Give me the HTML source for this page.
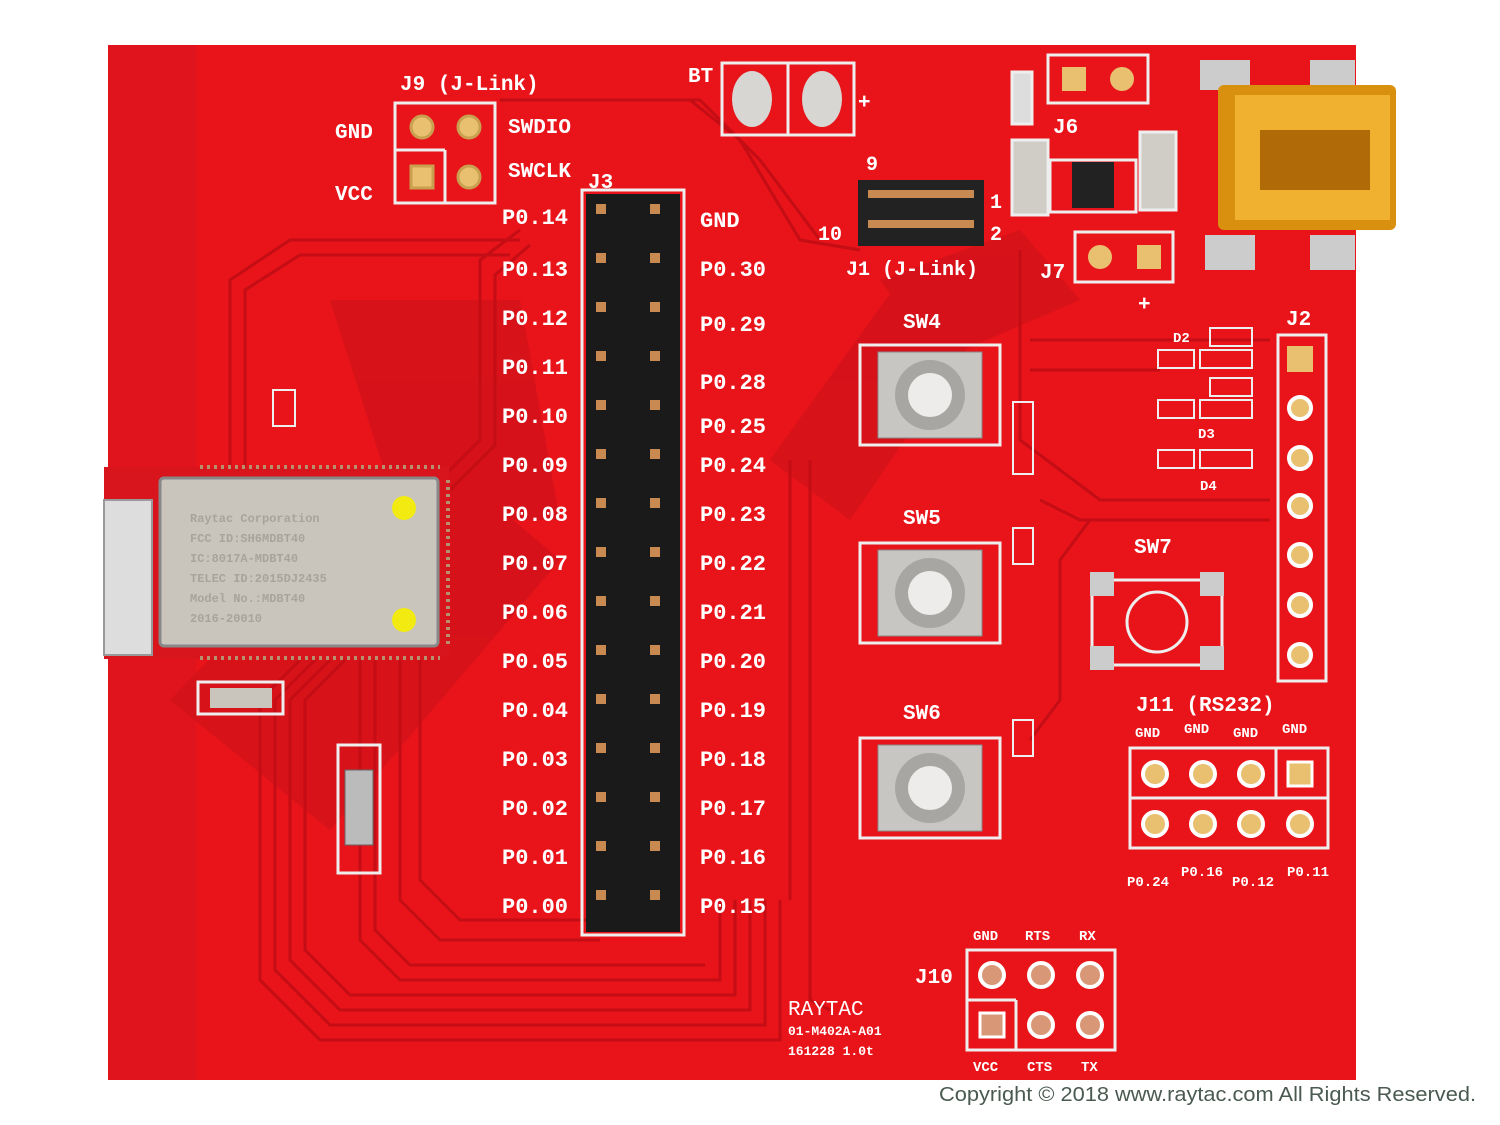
<!DOCTYPE html>
<html><head><meta charset="utf-8"><style>
html,body{margin:0;padding:0;background:#fff;}
svg{display:block;}
text{font-family:"Liberation Mono",monospace;font-weight:bold;fill:#fff;}
</style></head><body>
<svg width="1500" height="1125" viewBox="0 0 1500 1125" xmlns="http://www.w3.org/2000/svg">
<rect x="0" y="0" width="1500" height="1125" fill="#fff"/>
<rect x="108" y="45" width="1248" height="1035" fill="#e8141a"/>
<rect x="108" y="45" width="88" height="1035" fill="#e0141c"/>
<g fill="#c8101a" opacity="0.55">
<path d="M170 700 L420 440 L560 560 L330 830 Z"/>
<path d="M330 300 L520 300 L560 520 L400 520 Z"/>
<path d="M770 460 L900 280 L980 330 L850 520 Z"/>
<path d="M880 280 L1020 230 L1080 300 L940 360 Z"/>
</g>
<g fill="none" stroke="#c40d14" stroke-width="3">
<path d="M440 480 L480 440 L480 260 L520 230"/>
<path d="M450 490 L495 445 L495 275 L530 245"/>
<path d="M320 470 L230 470 L230 280 L290 240 L520 240"/>
<path d="M330 470 L245 470 L245 290 L300 255 L510 255"/>
<path d="M300 660 L260 700 L260 980 L320 1040 L780 1040 L780 900"/>
<path d="M315 660 L275 700 L275 970 L330 1025 L765 1025 L765 900"/>
<path d="M330 660 L290 700 L290 960 L340 1010 L750 1010 L750 900"/>
<path d="M345 660 L305 700 L305 950 L350 995 L735 995 L735 900"/>
<path d="M360 660 L360 940 L400 980 L720 980 L720 900"/>
<path d="M375 660 L375 930 L410 965 L705 965"/>
<path d="M400 660 L400 900 L440 940 L600 940"/>
<path d="M420 660 L420 880 L460 920 L590 920"/>
<path d="M690 100 L740 140 L800 240 L860 250"/>
<path d="M500 100 L700 100 L760 160 L820 240"/>
<path d="M1030 340 L1270 340"/><path d="M1030 370 L1160 370"/>
<path d="M1020 250 L1020 440 L1100 500 L1270 500"/>
<path d="M1040 500 L1080 520 L1270 520"/>
<path d="M1030 740 L1060 700 L1060 560 L1090 520"/>
<path d="M810 460 L810 1000 L830 1010"/>
<path d="M790 460 L790 900"/>
</g>
<rect x="104" y="467" width="345" height="192" fill="#d8141c"/>
<rect x="104" y="500" width="48" height="155" fill="#ddd" stroke="#999" stroke-width="2"/>
<rect x="160" y="478" width="278" height="168" rx="4" fill="#c9c5bd" stroke="#888" stroke-width="3"/>
<g font-size="12">
<text x="190" y="522" style="fill:#a8a49c">Raytac Corporation</text>
<text x="190" y="542" style="fill:#a8a49c">FCC ID:SH6MDBT40</text>
<text x="190" y="562" style="fill:#a8a49c">IC:8017A-MDBT40</text>
<text x="190" y="582" style="fill:#a8a49c">TELEC ID:2015DJ2435</text>
<text x="190" y="602" style="fill:#a8a49c">Model No.:MDBT40</text>
<text x="190" y="622" style="fill:#a8a49c">2016-20010</text>
</g>
<circle cx="404" cy="508" r="12" fill="#f2ea10"/>
<circle cx="404" cy="620" r="12" fill="#f2ea10"/>
<g stroke="#b89070" stroke-width="4" stroke-dasharray="3 4">
<line x1="200" y1="467" x2="440" y2="467"/><line x1="200" y1="658" x2="440" y2="658"/>
<line x1="448" y1="480" x2="448" y2="645"/>
</g>
<rect x="198" y="682" width="85" height="32" fill="none" stroke="#eee" stroke-width="3"/>
<rect x="210" y="688" width="62" height="20" fill="#c9c5bd"/>
<rect x="338" y="745" width="42" height="128" fill="none" stroke="#eee" stroke-width="3"/>
<rect x="345" y="770" width="28" height="75" fill="#bbb" stroke="#666"/>
<rect x="273" y="390" width="22" height="36" fill="none" stroke="#eee" stroke-width="2"/>
<rect x="395" y="103" width="100" height="100" fill="none" stroke="#eee" stroke-width="3"/>
<line x1="395" y1="150" x2="445" y2="150" stroke="#eee" stroke-width="3"/><line x1="445" y1="150" x2="445" y2="203" stroke="#eee" stroke-width="3"/>
<g fill="#e8c070" stroke="#c8a050" stroke-width="3">
<circle cx="422" cy="127" r="11"/><circle cx="469" cy="127" r="11"/><circle cx="469" cy="177" r="11"/>
<rect x="411" y="166" width="22" height="22"/></g>
<g font-size="21"><text x="400" y="90">J9 (J-Link)</text><text x="335" y="138">GND</text><text x="335" y="200">VCC</text>
<text x="508" y="133">SWDIO</text><text x="508" y="177">SWCLK</text><text x="588" y="188">J3</text></g>
<rect x="722" y="63" width="132" height="72" fill="none" stroke="#eee" stroke-width="3"/>
<line x1="788" y1="63" x2="788" y2="135" stroke="#eee" stroke-width="3"/>
<ellipse cx="752" cy="99" rx="20" ry="28" fill="#d8d6d2"/><ellipse cx="822" cy="99" rx="20" ry="28" fill="#d8d6d2"/>
<g font-size="21"><text x="688" y="82">BT</text><text x="858" y="108">+</text></g>
<rect x="582" y="190" width="102" height="745" fill="none" stroke="#eee" stroke-width="3"/>
<rect x="586" y="194" width="94" height="738" fill="#1a1a1a"/>
<g fill="#c88a50">
<rect x="596" y="204" width="10" height="10"/><rect x="650" y="204" width="10" height="10"/>
<rect x="596" y="253" width="10" height="10"/><rect x="650" y="253" width="10" height="10"/>
<rect x="596" y="302" width="10" height="10"/><rect x="650" y="302" width="10" height="10"/>
<rect x="596" y="351" width="10" height="10"/><rect x="650" y="351" width="10" height="10"/>
<rect x="596" y="400" width="10" height="10"/><rect x="650" y="400" width="10" height="10"/>
<rect x="596" y="449" width="10" height="10"/><rect x="650" y="449" width="10" height="10"/>
<rect x="596" y="498" width="10" height="10"/><rect x="650" y="498" width="10" height="10"/>
<rect x="596" y="547" width="10" height="10"/><rect x="650" y="547" width="10" height="10"/>
<rect x="596" y="596" width="10" height="10"/><rect x="650" y="596" width="10" height="10"/>
<rect x="596" y="645" width="10" height="10"/><rect x="650" y="645" width="10" height="10"/>
<rect x="596" y="694" width="10" height="10"/><rect x="650" y="694" width="10" height="10"/>
<rect x="596" y="743" width="10" height="10"/><rect x="650" y="743" width="10" height="10"/>
<rect x="596" y="792" width="10" height="10"/><rect x="650" y="792" width="10" height="10"/>
<rect x="596" y="841" width="10" height="10"/><rect x="650" y="841" width="10" height="10"/>
<rect x="596" y="890" width="10" height="10"/><rect x="650" y="890" width="10" height="10"/>
</g>
<g font-size="22">
<text x="502" y="224">P0.14</text><text x="502" y="276">P0.13</text><text x="502" y="325">P0.12</text><text x="502" y="374">P0.11</text>
<text x="502" y="423">P0.10</text><text x="502" y="472">P0.09</text><text x="502" y="521">P0.08</text><text x="502" y="570">P0.07</text>
<text x="502" y="619">P0.06</text><text x="502" y="668">P0.05</text><text x="502" y="717">P0.04</text><text x="502" y="766">P0.03</text>
<text x="502" y="815">P0.02</text><text x="502" y="864">P0.01</text><text x="502" y="913">P0.00</text>
<text x="700" y="227">GND</text><text x="700" y="276">P0.30</text><text x="700" y="331">P0.29</text><text x="700" y="389">P0.28</text>
<text x="700" y="433">P0.25</text><text x="700" y="472">P0.24</text><text x="700" y="521">P0.23</text><text x="700" y="570">P0.22</text>
<text x="700" y="619">P0.21</text><text x="700" y="668">P0.20</text><text x="700" y="717">P0.19</text><text x="700" y="766">P0.18</text>
<text x="700" y="815">P0.17</text><text x="700" y="864">P0.16</text><text x="700" y="913">P0.15</text>
</g>
<rect x="858" y="180" width="126" height="66" fill="#222"/>
<g fill="#c88a50"><rect x="868" y="190" width="106" height="8"/><rect x="868" y="220" width="106" height="8"/></g>
<g font-size="20"><text x="866" y="170">9</text><text x="818" y="240">10</text><text x="990" y="208">1</text><text x="990" y="240">2</text><text x="846" y="275">J1 (J-Link)</text></g>
<rect x="1048" y="55" width="100" height="48" fill="none" stroke="#eee" stroke-width="3"/>
<rect x="1062" y="67" width="24" height="24" fill="#e8c070"/><circle cx="1122" cy="79" r="12" fill="#e8c070"/>
<rect x="1075" y="232" width="98" height="50" fill="none" stroke="#eee" stroke-width="3"/>
<circle cx="1100" cy="257" r="12" fill="#e8c070"/><rect x="1137" y="245" width="24" height="24" fill="#e8c070"/>
<g font-size="21"><text x="1053" y="133">J6</text><text x="1040" y="278">J7</text><text x="1138" y="310">+</text></g>
<rect x="1012" y="72" width="20" height="52" fill="#ddd" stroke="#eee" stroke-width="3"/>
<rect x="1050" y="160" width="86" height="52" fill="none" stroke="#eee" stroke-width="3"/>
<rect x="1072" y="162" width="42" height="46" fill="#222"/>
<rect x="1012" y="140" width="36" height="75" fill="#d0ccc6" stroke="#eee" stroke-width="3"/>
<rect x="1140" y="132" width="36" height="78" fill="#d0ccc6" stroke="#eee" stroke-width="3"/>
<rect x="1200" y="60" width="50" height="30" fill="#ccc"/><rect x="1310" y="60" width="45" height="30" fill="#ccc"/>
<rect x="1205" y="235" width="50" height="35" fill="#ccc"/><rect x="1310" y="235" width="45" height="35" fill="#ccc"/>
<rect x="1218" y="85" width="178" height="145" rx="6" fill="#d9900e"/>
<rect x="1235" y="95" width="155" height="125" fill="#f0b030"/>
<rect x="1260" y="130" width="110" height="60" fill="#b06a08"/>
<g id="sw">
<rect x="860" y="345" width="140" height="100" fill="none" stroke="#eee" stroke-width="3"/>
<rect x="878" y="352" width="104" height="86" fill="#c8c6c2" stroke="#888"/>
<circle cx="930" cy="395" r="35" fill="#a8a6a2"/><circle cx="930" cy="395" r="22" fill="#eeecea"/>
</g>
<use href="#sw" y="198"/><use href="#sw" y="393"/>
<g font-size="21"><text x="903" y="328">SW4</text><text x="903" y="524">SW5</text><text x="903" y="719">SW6</text><text x="1134" y="553">SW7</text></g>
<g fill="none" stroke="#eee" stroke-width="2">
<rect x="1013" y="402" width="20" height="72"/><rect x="1013" y="528" width="20" height="36"/><rect x="1013" y="720" width="20" height="36"/>
</g>
<rect x="1092" y="580" width="130" height="85" fill="none" stroke="#eee" stroke-width="3"/>
<circle cx="1157" cy="622" r="30" fill="none" stroke="#eee" stroke-width="3"/>
<g fill="#ccc"><rect x="1090" y="572" width="24" height="24"/><rect x="1200" y="572" width="24" height="24"/><rect x="1090" y="646" width="24" height="24"/><rect x="1200" y="646" width="24" height="24"/></g>
<g fill="none" stroke="#eee" stroke-width="2">
<rect x="1158" y="350" width="36" height="18"/><rect x="1200" y="350" width="52" height="18"/><rect x="1210" y="328" width="42" height="18"/>
<rect x="1158" y="400" width="36" height="18"/><rect x="1200" y="400" width="52" height="18"/><rect x="1210" y="378" width="42" height="18"/>
<rect x="1158" y="450" width="36" height="18"/><rect x="1200" y="450" width="52" height="18"/>
</g>
<g font-size="14"><text x="1173" y="342">D2</text><text x="1198" y="438">D3</text><text x="1200" y="490">D4</text></g>
<rect x="1278" y="335" width="48" height="346" fill="none" stroke="#eee" stroke-width="3"/>
<rect x="1287" y="346" width="26" height="26" fill="#e8c070"/>
<g fill="#e8c070" stroke="#fff" stroke-width="4">
<circle cx="1300" cy="408" r="11"/><circle cx="1300" cy="458" r="11"/><circle cx="1300" cy="506" r="11"/>
<circle cx="1300" cy="555" r="11"/><circle cx="1300" cy="605" r="11"/><circle cx="1300" cy="655" r="11"/></g>
<g font-size="21"><text x="1286" y="325">J2</text><text x="1136" y="711">J11 (RS232)</text></g>
<rect x="1130" y="748" width="198" height="100" fill="none" stroke="#eee" stroke-width="3"/>
<line x1="1130" y1="798" x2="1328" y2="798" stroke="#eee" stroke-width="3"/><line x1="1276" y1="748" x2="1276" y2="798" stroke="#eee" stroke-width="3"/>
<g fill="#e8c070" stroke="#fff" stroke-width="4">
<circle cx="1155" cy="774" r="12"/><circle cx="1203" cy="774" r="12"/><circle cx="1251" cy="774" r="12"/>
<circle cx="1155" cy="824" r="12"/><circle cx="1203" cy="824" r="12"/><circle cx="1251" cy="824" r="12"/><circle cx="1300" cy="824" r="12"/></g>
<rect x="1288" y="762" width="24" height="24" fill="#e8c070" stroke="#fff" stroke-width="3"/>
<g font-size="14"><text x="1135" y="737">GND</text><text x="1184" y="733">GND</text><text x="1233" y="737">GND</text><text x="1282" y="733">GND</text>
<text x="1127" y="886">P0.24</text><text x="1181" y="876">P0.16</text><text x="1232" y="886">P0.12</text><text x="1287" y="876">P0.11</text></g>
<rect x="967" y="950" width="148" height="100" fill="none" stroke="#eee" stroke-width="3"/>
<line x1="1016" y1="1000" x2="1016" y2="1050" stroke="#eee" stroke-width="3"/><line x1="967" y1="1000" x2="1016" y2="1000" stroke="#eee" stroke-width="3"/>
<g fill="#d89878" stroke="#fff" stroke-width="4">
<circle cx="992" cy="975" r="12"/><circle cx="1041" cy="975" r="12"/><circle cx="1090" cy="975" r="12"/>
<circle cx="1041" cy="1025" r="12"/><circle cx="1090" cy="1025" r="12"/></g>
<rect x="980" y="1013" width="24" height="24" fill="#d89878" stroke="#fff" stroke-width="3"/>
<g font-size="14"><text x="973" y="940">GND</text><text x="1025" y="940">RTS</text><text x="1079" y="940">RX</text>
<text x="973" y="1071">VCC</text><text x="1027" y="1071">CTS</text><text x="1081" y="1071">TX</text></g>
<g font-size="21"><text x="915" y="983">J10</text><text x="788" y="1015" style="font-weight:normal">RAYTAC</text></g>
<g font-size="13"><text x="788" y="1035">01-M402A-A01</text><text x="788" y="1055">161228 1.0t</text></g>
<text x="939" y="1101" textLength="537" lengthAdjust="spacingAndGlyphs" style="font-family:'Liberation Sans',sans-serif;font-weight:normal;font-size:20px;fill:#4a5a50">Copyright © 2018 www.raytac.com  All Rights Reserved.</text>
</svg>
</body></html>
